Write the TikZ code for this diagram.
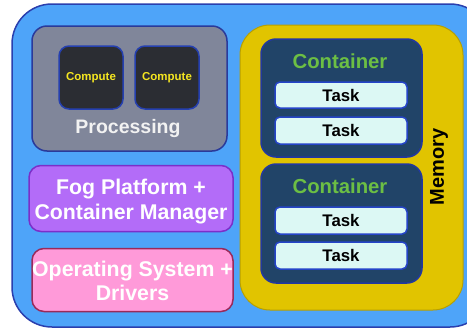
\documentclass[tikz,border=0pt]{standalone}
\usepackage{fontspec}
\setmainfont{Liberation Sans}
\definecolor{outerfill}{HTML}{4EA4F9}
\definecolor{outerline}{HTML}{2A3FAE}
\definecolor{procfill}{HTML}{80869A}
\definecolor{procline}{HTML}{2A3A9A}
\definecolor{cpufill}{HTML}{2B2D33}
\definecolor{cpuline}{HTML}{2540B0}
\definecolor{cputext}{HTML}{F5E620}
\definecolor{fogfill}{HTML}{B36CF8}
\definecolor{fogline}{HTML}{7B2FC9}
\definecolor{osfill}{HTML}{FF9AD9}
\definecolor{osline}{HTML}{9A2A5A}
\definecolor{memfill}{HTML}{E1C400}
\definecolor{memline}{HTML}{B8A000}
\definecolor{contfill}{HTML}{214468}
\definecolor{contline}{HTML}{2238A0}
\definecolor{conttext}{HTML}{6CBF44}
\definecolor{taskfill}{HTML}{DCF8F4}
\definecolor{taskline}{HTML}{2544C8}
\tikzset{
  panel/.style={draw, line width=1.5pt, inner sep=0pt, rounded corners=#1},
  panel/.default=12pt,
  bigtext/.style={font=\bfseries\fontsize{19.5}{24}\selectfont, align=center},
  layertext/.style={font=\bfseries\fontsize{21.3}{24.5}\selectfont, align=center, text=white},
  conttxt/.style={font=\bfseries\fontsize{20.3}{24}\selectfont, text=conttext},
  tasktext/.style={font=\bfseries\fontsize{16.8}{19}\selectfont},
  cputxt/.style={font=\bfseries\fontsize{11.5}{14}\selectfont, text=cputext},
}
\begin{document}
\begin{tikzpicture}[x=1pt,y=-1pt]
\useasboundingbox (0,0) rectangle (467,330);
\clip (0,0) rectangle (467,330);
% device frame
\node[panel=40pt, fill=outerfill, draw=outerline, minimum width=478pt, minimum height=323pt] (device) at (251,165.5) {};
% processing block
\node[panel=15pt, fill=procfill, draw=procline, minimum width=195pt, minimum height=125pt] (proc) at (129.5,88.5) {};
\node[panel=10pt, fill=cpufill, draw=cpuline, minimum width=64pt, minimum height=63pt, cputxt] (cpu1) at (91,77.5) {Compute};
\node[panel=10pt, fill=cpufill, draw=cpuline, minimum width=64pt, minimum height=63pt, cputxt] (cpu2) at (167,77.5) {Compute};
\node[bigtext, text=white!95!black] (proclabel) at (128,128.5) {Processing};
% software layers
\node[panel=12pt, fill=fogfill, draw=fogline, minimum width=204pt, minimum height=66pt] (fog) at (131,198.5) {};
\node[layertext] (foglabel) at (131,201.5) {Fog Platform +\\Container Manager};
\node[panel=12pt, fill=osfill, draw=osline, minimum width=201pt, minimum height=63pt] (os) at (132.5,280) {};
\node[layertext] (oslabel) at (132.5,281) {Operating System +\\Drivers};
% memory with containers
\node[panel=30pt, fill=memfill, draw=memline, line width=1pt, minimum width=223pt, minimum height=285pt] (mem) at (351.5,167.5) {};
\node[bigtext, rotate=90, font=\bfseries\fontsize{20}{24}\selectfont] (memlabel) at (439,167) {Memory};
\node[panel=15pt, fill=contfill, draw=contline, minimum width=161pt, minimum height=118pt] (cont1) at (341.5,98) {};
\node[conttxt] (cont1label) at (340,61) {Container};
\node[panel=5pt, fill=taskfill, draw=taskline, minimum width=132pt, minimum height=26pt, tasktext] (t1) at (341,95) {Task};
\node[panel=5pt, fill=taskfill, draw=taskline, minimum width=132pt, minimum height=27pt, tasktext] (t2) at (341,130.5) {Task};
\node[panel=15pt, fill=contfill, draw=contline, minimum width=161pt, minimum height=119pt] (cont2) at (341.5,223.5) {};
\node[conttxt] (cont2label) at (340,186) {Container};
\node[panel=5pt, fill=taskfill, draw=taskline, minimum width=132pt, minimum height=27pt, tasktext] (t3) at (341,220.5) {Task};
\node[panel=5pt, fill=taskfill, draw=taskline, minimum width=132pt, minimum height=27pt, tasktext] (t4) at (341,255.5) {Task};
\end{tikzpicture}
\end{document}
